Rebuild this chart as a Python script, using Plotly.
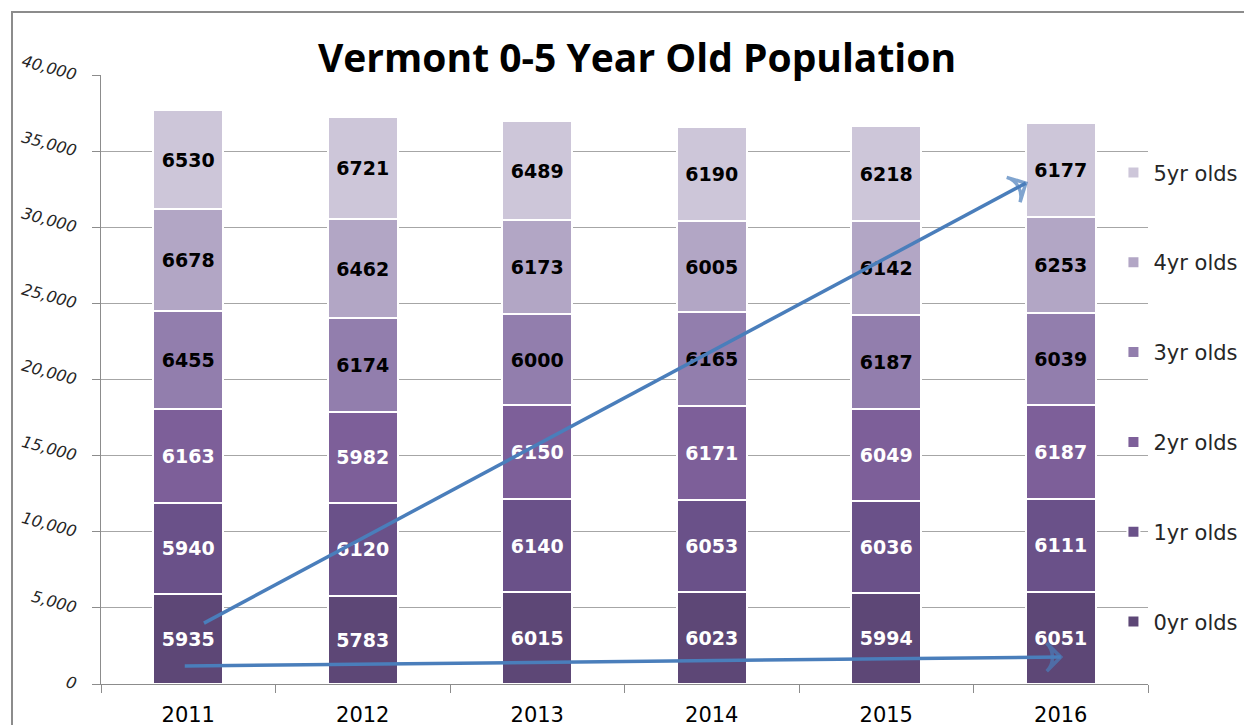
import plotly.graph_objects as go

years = ["2011", "2012", "2013", "2014", "2015", "2016"]
series_names = ["0yr olds", "1yr olds", "2yr olds", "3yr olds", "4yr olds", "5yr olds"]
age0 = [5935, 5783, 6015, 6023, 5994, 6051]
age1 = [5940, 6120, 6140, 6053, 6036, 6111]
age2 = [6163, 5982, 6150, 6171, 6049, 6187]
age3 = [6455, 6174, 6000, 6165, 6187, 6039]
age4 = [6678, 6462, 6173, 6005, 6142, 6253]
age5 = [6530, 6721, 6489, 6190, 6218, 6177]
series_values = [age0, age1, age2, age3, age4, age5]
colors = ["#5d4776", "#6a5189", "#7d5f99", "#927ead", "#b2a6c5", "#cdc6d9"]
label_colors = ["white", "white", "white", "black", "black", "black"]

# trend arrows (category index, population value)
arrow_up_x = [0.09, 4.80]
arrow_up_y = [4000, 32900]
arrow_flat_x = [-0.02, 5.0]
arrow_flat_y = [1180, 1770]

title_text = "Vermont 0-5 Year Old Population"

fig = go.Figure()
n = len(series_names)
for i, (name, vals, col, lc) in enumerate(zip(series_names, series_values, colors, label_colors)):
    fig.add_trace(go.Bar(
        x=years, y=vals, name=name, legendgroup=name, legendrank=n - i,
        marker=dict(color=col, line=dict(color="white", width=2)),
        width=0.4,
        text=[str(v) for v in vals], textposition="inside",
        insidetextanchor="middle", textangle=0,
        textfont=dict(family="DejaVu Sans", size=19, color=lc, weight="bold"),
        hoverinfo="skip",
    ))

for ax_, ay_ in [(arrow_up_x, arrow_up_y), (arrow_flat_x, arrow_flat_y)]:
    fig.add_trace(go.Scatter(
        x=ax_, y=ay_, xaxis="x2", yaxis="y", mode="lines+markers",
        line=dict(color="#4a7ebb", width=3.5),
        marker=dict(symbol=["circle", "arrow-wide-open"], size=[0, 20],
                    angleref="previous", color="#4a7ebb",
                    line=dict(color="#4a7ebb", width=3.5)),
        showlegend=False, hoverinfo="skip", cliponaxis=False,
    ))

fig.update_layout(
    width=1252, height=725,
    margin=dict(l=93, r=112, t=67, b=49, autoexpand=False),
    paper_bgcolor="white", plot_bgcolor="white",
    barmode="stack",
    title=dict(text="<b>" + title_text + "</b>", x=0.5024, xref="container",
               y=0.931, yref="container", xanchor="center", yanchor="middle",
               font=dict(family="Open Sans", size=39, color="black")),
    font=dict(family="DejaVu Sans", color="black"),
    legend=dict(x=0.967, xanchor="left", y=0.873, yanchor="top",
                traceorder="grouped", tracegroupgap=59.5,
                bgcolor="rgba(0,0,0,0)",
                font=dict(family="DejaVu Sans", size=21, color="#262626")),
    xaxis=dict(type="category", showline=True, linecolor="#8c8c8c", linewidth=1,
               ticks="outside", tickson="boundaries", ticklen=8, tickcolor="#8c8c8c",
               tickfont=dict(family="DejaVu Sans", size=21, color="black"),
               ticklabelstandoff=12, showgrid=False, automargin=False),
    xaxis2=dict(overlaying="x", range=[-0.5, 5.5], visible=False),
    yaxis=dict(range=[0, 40000], dtick=5000, tickformat=",",
               showline=True, linecolor="#8c8c8c", linewidth=1,
               ticks="outside", ticklen=8, tickcolor="#8c8c8c",
               showgrid=True, gridcolor="#a6a6a6", gridwidth=1,
               tickangle=15, ticklabelstandoff=12, automargin=False,
               tickfont=dict(family="DejaVu Sans", size=16, color="#262626", style="italic"),
               zeroline=False),
    shapes=[dict(type="rect", xref="paper", yref="paper",
                 x0=-0.085, x1=1.2, y0=-0.3, y1=1.1034,
                 line=dict(color="#8c8c8c", width=2), layer="below")],
)

fig.write_html("out.html")
